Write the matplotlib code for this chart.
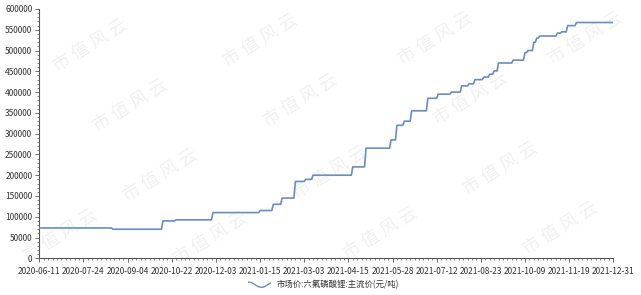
import numpy as np
import matplotlib
matplotlib.use('Agg')
import matplotlib.pyplot as plt
from matplotlib.legend_handler import HandlerBase
from matplotlib.lines import Line2D
from matplotlib.ticker import MultipleLocator

plt.rcParams['font.family'] = ['Noto Sans CJK SC', 'DejaVu Sans']

# ---- data ----
tick_labels = ['2020-06-11', '2020-07-24', '2020-09-04', '2020-10-22', '2020-12-03',
               '2021-01-15', '2021-03-03', '2021-04-15', '2021-05-28', '2021-07-12',
               '2021-08-23', '2021-10-09', '2021-11-19', '2021-12-31']
days_per_label = 30
n_days = 391

# trading-day index at which the price changes, and new price level (元/吨)
change_day = [0, 50, 84, 93, 118, 150, 159, 165, 174, 181, 186, 213, 222,
              239, 243, 248, 253, 264, 271, 280, 287, 292, 296, 302, 306, 309,
              312, 322, 330, 332, 336, 338, 340, 352, 355, 359, 365]
change_price = [73000, 70000, 90000, 92500, 110000, 115000, 130000, 145000, 185000,
                190000, 200000, 220000, 265000, 285000, 320000, 330000, 355000,
                385000, 395000, 400000, 415000, 420000, 430000, 436000, 443000,
                451000, 470000, 477000, 495000, 500000, 520000, 530000, 535000,
                542000, 545000, 560000, 567500]
series_name = '市场价:六氟磷酸锂:主流价(元/吨)'

price = np.zeros(n_days)
for d, p in zip(change_day, change_price):
    price[d:] = p
x = np.arange(n_days)

LINE_C = '#6a8cc4'
W, H = 641, 295


class HandlerWave(HandlerBase):
    def create_artists(self, legend, orig_handle, xdescent, ydescent, width,
                       height, fontsize, trans):
        t = np.linspace(0, 1, 50)
        xs = -xdescent + t * width
        ys = -ydescent + height / 2 + 0.45 * height * np.cos(2 * np.pi * t * 0.85)
        ln = Line2D(xs, ys, color=orig_handle.get_color(),
                    lw=orig_handle.get_linewidth(), transform=trans)
        return [ln]


fig = plt.figure(figsize=(W / 100, H / 100), dpi=100)
left, right, top, bottom = 39.3, 613.3, 9.0, 258.3
ax = fig.add_axes([left / W, 1 - bottom / H, (right - left) / W, (bottom - top) / H])
ax.patch.set_alpha(0)

# watermarks (kept inside the canvas)
wm = [(90, 45), (260, 40), (435, 38), (585, 38),
      (130, 105), (300, 100), (470, 98),
      (160, 175), (330, 172), (500, 168),
      (60, 235), (210, 238), (380, 233), (560, 228)]
for (px, py) in wm:
    fig.text(px / W, 1 - py / H, '市 值 风 云', rotation=32, fontsize=13,
             color='#f1f1f1', ha='center', va='center', zorder=-1)

ax.plot(x, price, color=LINE_C, lw=1.2, zorder=3)

ax.set_xlim(0, n_days - 1)
ax.set_ylim(0, 600000)
ax.set_xticks(np.arange(0, n_days, days_per_label))
ax.set_xticklabels(tick_labels)
ax.xaxis.set_minor_locator(MultipleLocator(3))
ax.yaxis.set_major_locator(MultipleLocator(50000))
ax.yaxis.set_minor_locator(MultipleLocator(10000))

for s in ['top', 'right']:
    ax.spines[s].set_visible(False)
for s in ['left', 'bottom']:
    ax.spines[s].set_color('#555555')
    ax.spines[s].set_linewidth(0.8)

ax.tick_params(axis='both', which='major', labelsize=6, labelcolor='#333333',
               colors='#555555', length=3, width=0.6, pad=2)
ax.tick_params(axis='both', which='minor', colors='#555555', length=1.5, width=0.5)
ax.tick_params(axis='x', which='major', pad=3)

handle = Line2D([], [], color=LINE_C, lw=1.0)
leg = ax.legend(handles=[handle], labels=[series_name],
                handler_map={Line2D: HandlerWave()},
                loc='center', bbox_to_anchor=(324 / W, 1 - 285 / H),
                bbox_transform=fig.transFigure, frameon=False, fontsize=6,
                handlelength=2.6, handletextpad=0.8)
for t in leg.get_texts():
    t.set_color('#333333')

fig.savefig('out.png', dpi=100)
